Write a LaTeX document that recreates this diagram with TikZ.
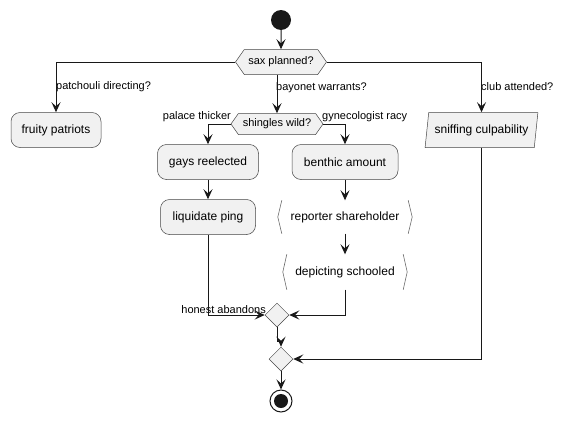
\documentclass[tikz,border=0pt]{standalone}
\usepackage{fontspec}
\setmainfont{Liberation Sans}
\usetikzlibrary{arrows.meta,shapes.symbols,shapes.geometric}
\definecolor{boxfill}{HTML}{F1F1F1}
\definecolor{ink}{HTML}{181818}
\definecolor{sideline}{HTML}{6A6A6A}

\begin{document}
\begin{tikzpicture}[x=1pt,y=-1pt,
    action/.style={draw=ink!80, fill=boxfill, rounded corners=9pt, line width=0.5pt,
        minimum height=35pt, inner xsep=8pt, font=\fontsize{12}{14}\selectfont},
    choice/.style={signal, signal to=west and east, signal pointer angle=110, draw=ink!80,
        fill=boxfill, line width=0.5pt, inner xsep=3pt, font=\fontsize{11}{13}\selectfont},
    merge/.style={diamond, draw=ink!80, fill=boxfill, line width=0.5pt, minimum size=24pt, inner sep=0pt},
    flow/.style={-{Stealth[length=10pt,width=9pt,inset=4pt]}, line width=1pt, draw=ink},
    lbl/.style={font=\fontsize{11}{13}\selectfont, inner sep=0pt}]
    \useasboundingbox (0,0) rectangle (562,423);

    \node[circle, fill=ink, minimum size=20pt, inner sep=0pt] (start) at (281,20) {};
    \node[choice, minimum width=91pt, minimum height=25pt] (sax) at (281,62) {sax planned?};

    \node[action, minimum width=90pt] (fruity) at (56,130) {fruity patriots};
    \node[choice, minimum width=92pt, minimum height=21pt] (shingles) at (277,124) {shingles wild?};
    \node[trapezium, trapezium left angle=79, trapezium right angle=101, trapezium stretches=true,
        draw=ink!80, fill=boxfill, line width=0.5pt, minimum width=113pt, minimum height=35pt,
        font=\fontsize{12}{14}\selectfont] (sniff) at (481.5,130) {sniffing culpability};

    \node[action, minimum width=101pt] (gays) at (208,162) {gays reelected};
    \node[action, minimum width=95pt] (liquidate) at (208,217) {liquidate ping};
    \node[action, minimum width=106pt] (benthic) at (345,162) {benthic amount};

    % bracketed steps, sides only
    \node[minimum width=134pt, minimum height=33pt, font=\fontsize{12}{14}\selectfont] (rep) at (345,217) {reporter shareholder};
    \node[minimum width=124pt, minimum height=35pt, font=\fontsize{12}{14}\selectfont] (dep) at (345,272) {depicting schooled};
    \foreach \n in {rep,dep} {
        \draw[sideline, line width=0.6pt] ([xshift=4pt]\n.north west) -- (\n.west) -- ([xshift=4pt]\n.south west);
        \draw[sideline, line width=0.6pt] ([xshift=-4pt]\n.north east) -- (\n.east) -- ([xshift=-4pt]\n.south east);
    }

    \node[merge] (m1) at (277,315) {};
    \node[merge] (m2) at (281,359) {};
    \node[circle, draw=ink, line width=1pt, minimum size=22pt, inner sep=0pt] (stop) at (281,401) {};
    \fill[ink] (stop.center) circle (7pt);

    % labels
    \node[lbl, anchor=west] (lpatch) at (56,87) {patchouli directing?};
    \node[lbl, anchor=west] (lbay) at (276,88) {bayonet warrants?};
    \node[lbl, anchor=west] (lclub) at (481,87) {club attended?};
    \node[lbl, anchor=east] (lpal) at (231,117) {palace thicker};
    \node[lbl, anchor=west] (lgyn) at (322,117) {gynecologist racy};
    \node[lbl, anchor=east] (lhon) at (266,310) {honest abandons};

    \draw[flow] (start) -- (sax);
    \draw[flow] (sax.west) -| (fruity.north);
    \draw[flow] (shingles.north |- sax.south) -- (shingles.north);
    \draw[flow] (sax.east) -| (sniff.north);
    \draw[flow] (shingles.west) -| (gays.north);
    \draw[flow] (shingles.east) -| (benthic.north);
    \draw[flow] (gays) -- (liquidate);
    \draw[flow] (benthic) -- (rep);
    \draw[flow] (rep) -- (dep);
    \draw[flow] (liquidate.south) |- (m1.west);
    \draw[flow] (dep.south) |- (m1.east);
    \draw[flow] (m1.south) -- ++(0,14) -| (m2.north);
    \draw[flow] (sniff.south) |- (m2.east);
    \draw[flow] (m2) -- (stop);
\end{tikzpicture}
\end{document}
